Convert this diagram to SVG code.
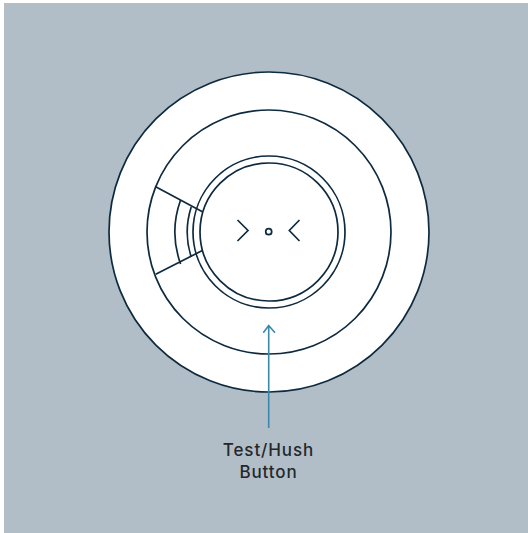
<svg xmlns="http://www.w3.org/2000/svg" width="528" height="533" viewBox="0 0 528 533">
<style>
.l{fill:none;stroke:#0e2a3f;stroke-width:1.7}
.w{fill:#fff;stroke:#0e2a3f;stroke-width:1.7}
.t{font-family:"Inter","Noto Sans",sans-serif;font-size:17px;font-weight:500;letter-spacing:.9px;fill:#25282b;text-anchor:middle}
.a{fill:none;stroke:#3a88ab;stroke-width:1.6}
</style>
<rect width="528" height="533" fill="#fff"/>
<rect x="4" y="3" width="524" height="530" fill="#b1bec8"/>
<g id="device">
<circle class="w" cx="269" cy="232" r="160"/>
<circle class="w" cx="269" cy="232" r="122"/>
<circle class="l" cx="269" cy="232" r="76"/>
<path class="l" d="M155.700 186.700L203.300 212.300M155.700 274.300L203.300 250"/>
<path class="l" d="M180.600 200A94 94 0 0 0 180.600 264M191.200 207A81.700 81.700 0 0 0 191.200 257"/>
<circle class="w" cx="269" cy="232" r="69"/>
<circle class="l" cx="268.700" cy="231.700" r="3"/>
<path class="l" d="M237.500 220L248 230.500L237.500 241M299.500 220L289.300 230.500L299.500 241"/>
</g>
<g id="connectors">
<path class="a" d="M268.700 428V325.500M263.300 332.700L268.700 325.500L275 332.700"/>
</g>
<g id="label">
<text class="t" x="268.500" y="455.500">Test/Hush</text>
<text class="t" x="268.500" y="477.500">Button</text>
</g>
</svg>
